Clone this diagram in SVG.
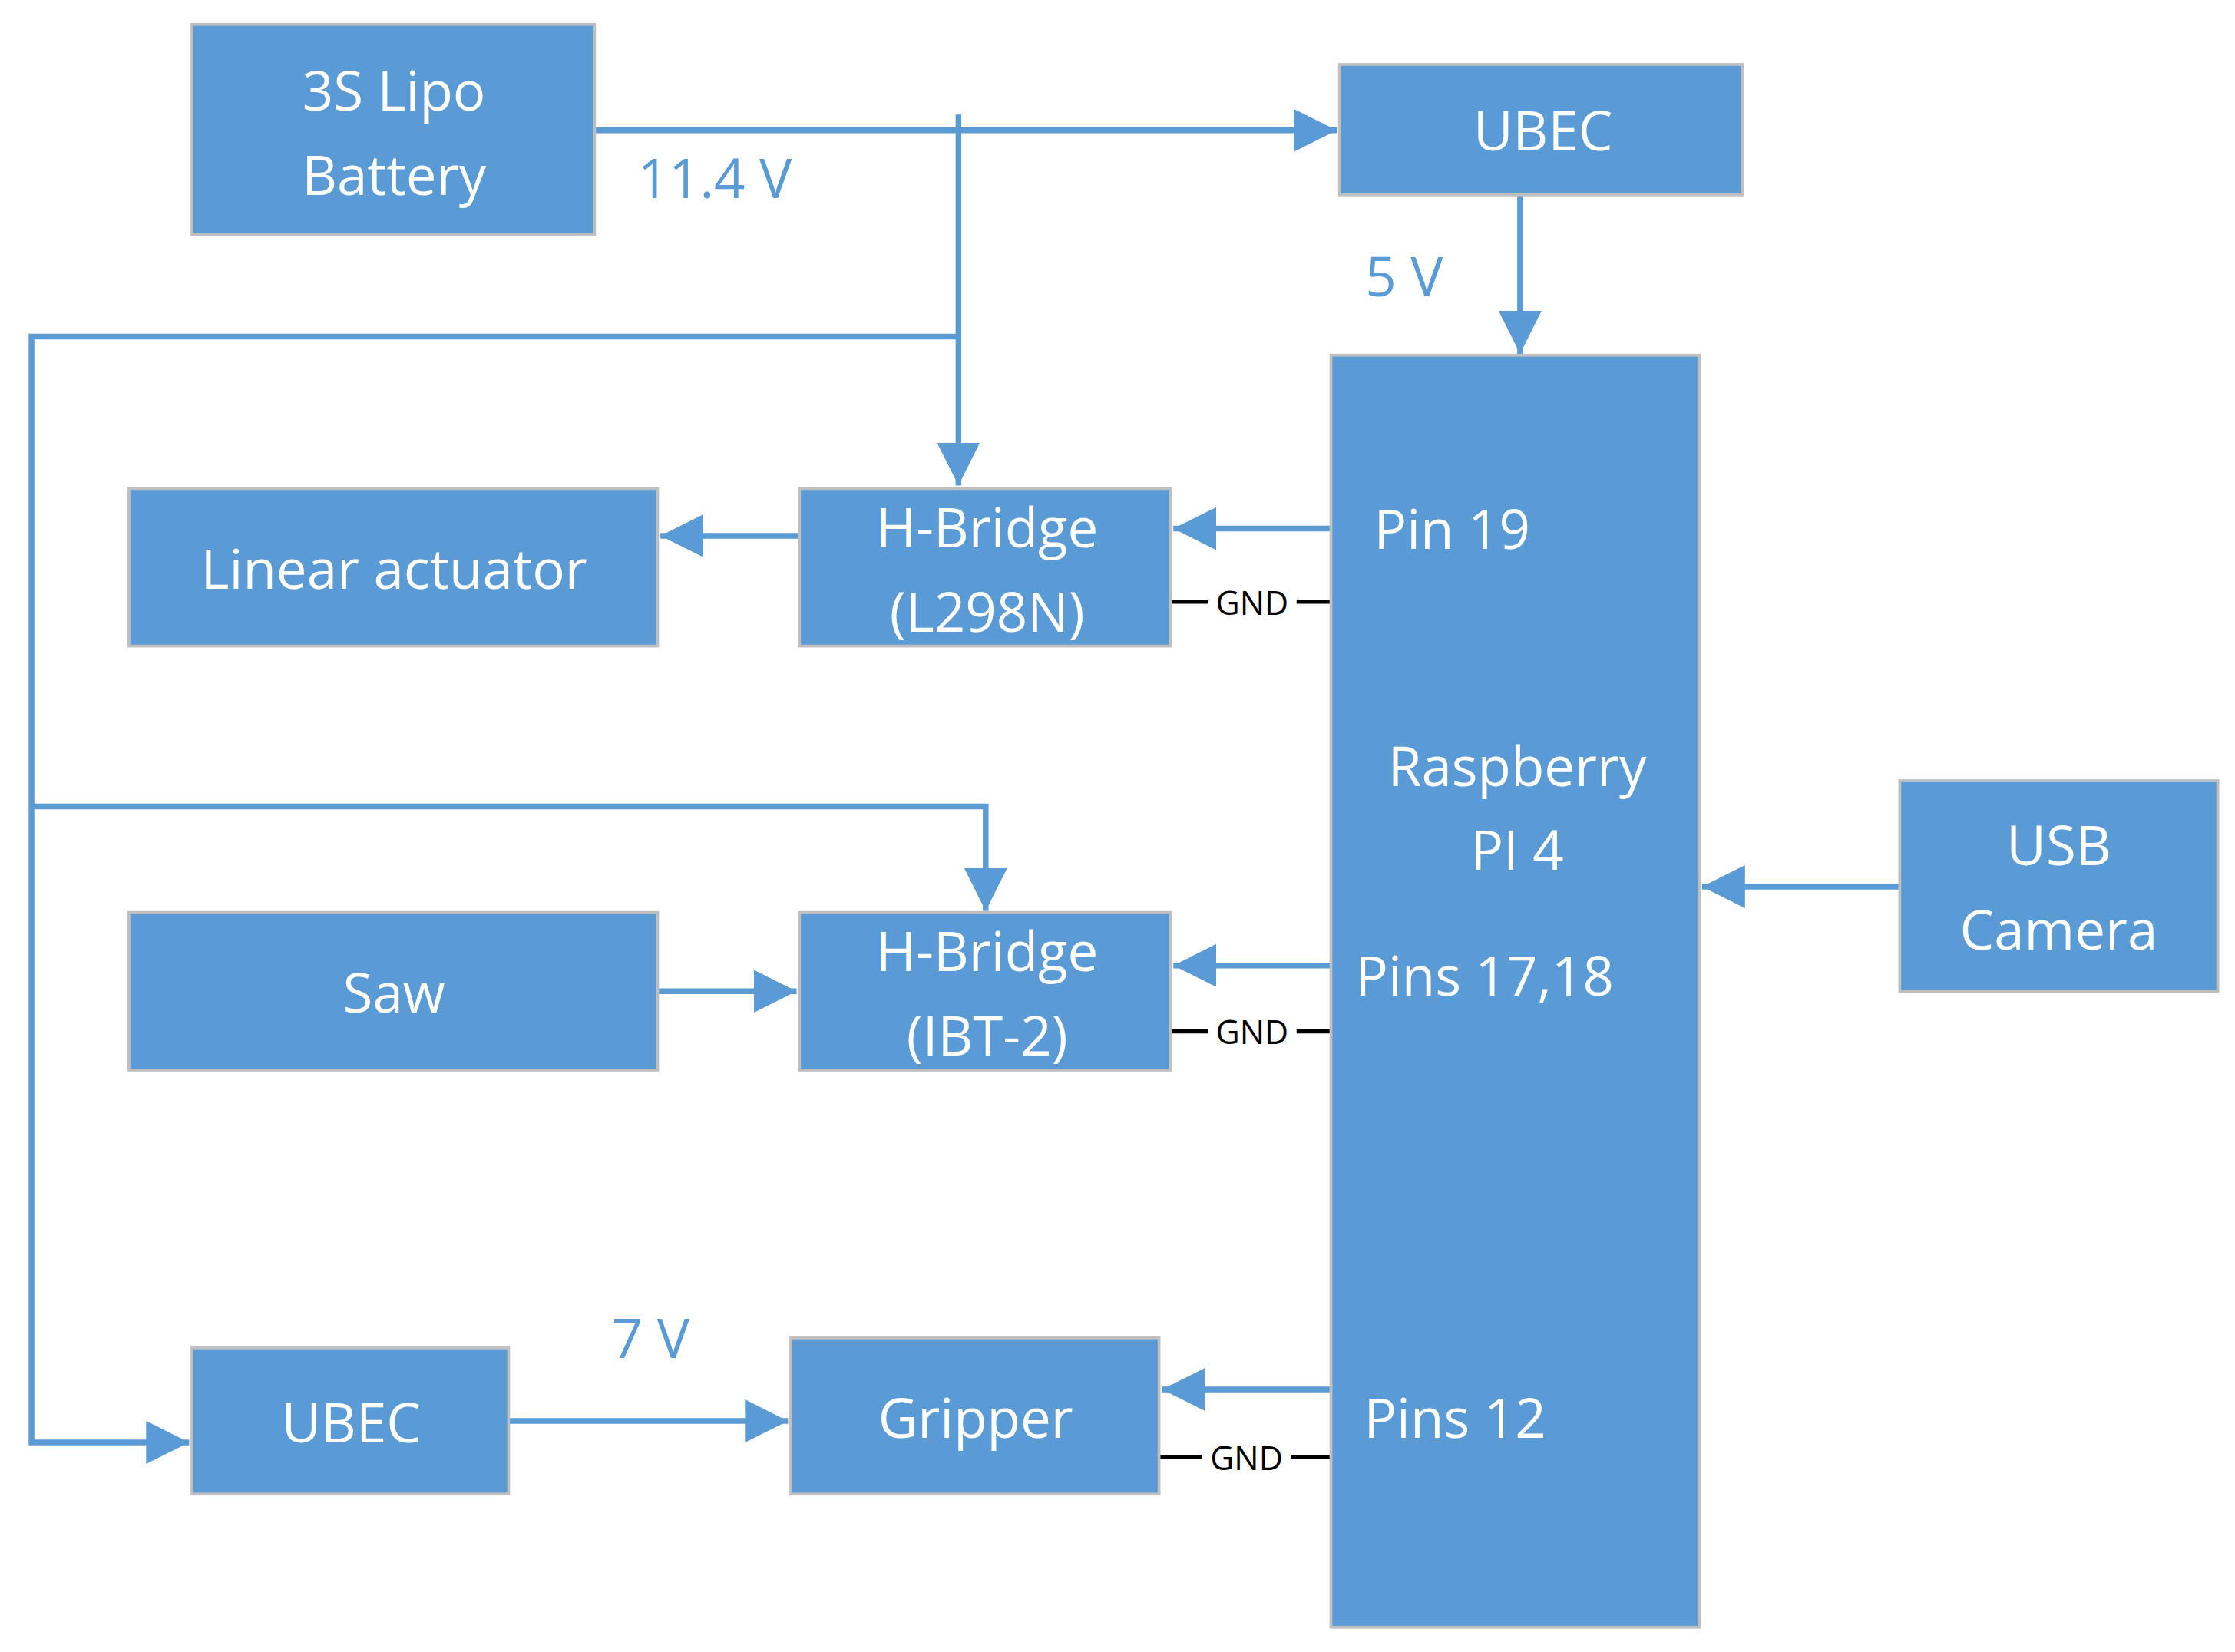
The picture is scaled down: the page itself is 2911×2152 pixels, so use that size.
<svg xmlns="http://www.w3.org/2000/svg" width="2911" height="2152" viewBox="0 0 2911 2152">
<style>
.box{fill:#5b9bd5;stroke:#bfbfbf;stroke-width:2}
.t{font-family:"Open Sans","Liberation Sans",sans-serif;font-size:38px;fill:#fff;text-anchor:middle}
.l{font-family:"Open Sans","Liberation Sans",sans-serif;font-size:38px;fill:#5b9bd5}
.w{stroke:#5b9bd5;stroke-width:4;fill:none}
.g{stroke:#000;stroke-width:3;fill:none}
.gt{font-family:"Open Sans","Liberation Sans",sans-serif;font-size:23px;fill:#000;text-anchor:middle}
</style>
<defs>
<marker id="a" markerUnits="userSpaceOnUse" markerWidth="32" markerHeight="32" refX="30" refY="15" orient="auto"><path d="M0,0 L30,15 L0,30 Z" fill="#5b9bd5"/></marker>
</defs>
<rect width="2911" height="2152" fill="#fff"/>
<g transform="scale(1.86603)">
<g id="connectors">
<path class="w" d="M415,91 H933" marker-end="url(#a)"/>
<path class="w" d="M669,80 V339" marker-end="url(#a)"/>
<path class="w" d="M669,235 H22 V1007 H132" marker-end="url(#a)"/>
<path class="w" d="M22,563 H688 V636" marker-end="url(#a)"/>
<path class="w" d="M1061,136 V247" marker-end="url(#a)"/>
<path class="w" d="M558,374 H461" marker-end="url(#a)"/>
<path class="w" d="M929,369 H819" marker-end="url(#a)"/>
<path class="w" d="M459,692 H556" marker-end="url(#a)"/>
<path class="w" d="M929,674 H819" marker-end="url(#a)"/>
<path class="w" d="M1326,619 H1188" marker-end="url(#a)"/>
<path class="w" d="M355,992 H550" marker-end="url(#a)"/>
<path class="w" d="M929,970 H811" marker-end="url(#a)"/>
<path class="g" d="M817,420 H843 M905,420 H929"/>
<text class="gt" x="874" y="429">GND</text>
<path class="g" d="M817,720 H843 M905,720 H929"/>
<text class="gt" x="874" y="729">GND</text>
<path class="g" d="M809,1017 H839 M901,1017 H929"/>
<text class="gt" x="870" y="1026">GND</text>
<text class="l" x="445" y="138">11.4 V</text>
<text class="l" x="953" y="207">5 V</text>
<text class="l" x="427" y="948">7 V</text>
</g>
<g id="battery"><rect class="box" x="134" y="17" width="281" height="147"/><text class="t" x="275" y="77">3S Lipo</text><text class="t" x="275" y="136">Battery</text></g>
<g id="ubec1"><rect class="box" x="935" y="45" width="281" height="91"/><text class="t" x="1077" y="105">UBEC</text></g>
<g id="rpi"><rect class="box" x="929" y="248" width="257" height="888"/>
<text class="t" x="959" y="383" text-anchor="start" style="text-anchor:start">Pin 19</text>
<text class="t" x="1059" y="549">Raspberry</text><text class="t" x="1059" y="607">PI 4</text>
<text class="t" x="946" y="695" style="text-anchor:start">Pins 17,18</text>
<text class="t" x="952" y="1004" style="text-anchor:start">Pins 12</text></g>
<g id="linear"><rect class="box" x="90" y="341" width="369" height="110"/><text class="t" x="275" y="411">Linear actuator</text></g>
<g id="hb1"><rect class="box" x="558" y="341" width="259" height="110"/><text class="t" x="689" y="382">H-Bridge</text><text class="t" x="689" y="441">(L298N)</text></g>
<g id="saw"><rect class="box" x="90" y="637" width="369" height="110"/><text class="t" x="275" y="707">Saw</text></g>
<g id="hb2"><rect class="box" x="558" y="637" width="259" height="110"/><text class="t" x="689" y="678">H-Bridge</text><text class="t" x="689" y="737">(IBT-2)</text></g>
<g id="usb"><rect class="box" x="1326" y="545" width="222" height="147"/><text class="t" x="1437" y="604">USB</text><text class="t" x="1437" y="663">Camera</text></g>
<g id="ubec2"><rect class="box" x="134" y="941" width="221" height="102"/><text class="t" x="245" y="1007">UBEC</text></g>
<g id="gripper"><rect class="box" x="552" y="934" width="257" height="109"/><text class="t" x="681" y="1004">Gripper</text></g>
</g>
</svg>
